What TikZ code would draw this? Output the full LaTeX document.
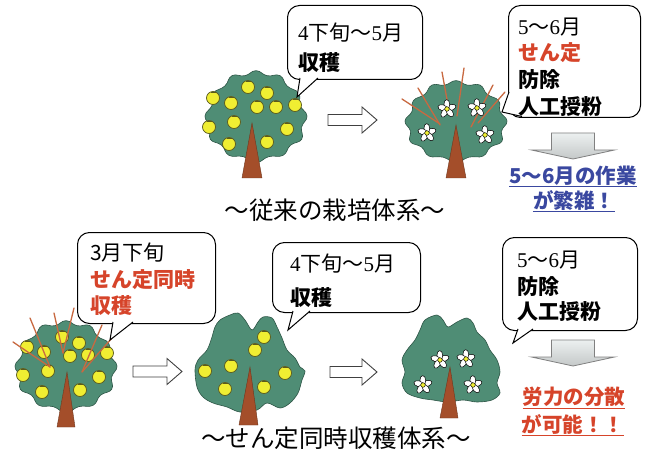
\documentclass[tikz,border=0pt]{standalone}
\usepackage{fontspec}
\newfontfamily\jp{Noto Sans CJK JP}
\newfontfamily\numser{Liberation Serif}

\definecolor{crowngreen}{RGB}{79,141,117}
\definecolor{crownedge}{RGB}{45,85,70}
\definecolor{trunkbrown}{RGB}{164,78,42}
\definecolor{trunkedge}{RGB}{110,55,30}
\definecolor{fruityellow}{RGB}{240,238,50}
\definecolor{fruitedge}{RGB}{90,90,30}
\definecolor{twigred}{RGB}{200,105,65}
\definecolor{redtext}{RGB}{214,68,42}
\definecolor{bluetext}{RGB}{58,72,160}
\definecolor{arrowgrayA}{RGB}{236,240,240}
\definecolor{arrowgrayB}{RGB}{196,200,200}

% round, bumpy crown, a little narrower at the top: centre (#1,#2), radii #3 x #4
\newcommand\roundcrown[4]{%
  \filldraw[crown] plot[smooth cycle, tension=0.8, variable=\t, samples at={0,15,...,345}]
    ({#1+#3*(1+0.07*sin(\t))*(0.955+0.045*cos(12*\t))*cos(\t)},
     {#2+#4*(0.955+0.045*cos(12*\t)+0.015*sin(5*\t))*sin(\t)});}
% trunk: apex (#1,#2), base from #3 to #4 at height #5
\newcommand\trunkat[5]{\filldraw[trunk] (#1,#2) -- (#3,#5) -- (#4,#5) -- cycle;}
% a fruit with a small stem
\newcommand\fruit[2]{%
  \filldraw[fruit] (#1,#2) circle[radius=6.5];
  \draw[fruitedge, line width=1pt] (#1-2.5,#2-5.8) -- (#1+2.5,#2-5.8);}
% a blossom: five petals around a yellow centre
\newcommand\blossom[2]{%
  \foreach \a in {20,92,164,236,308}
    \filldraw[petal, rotate around={\a:(#1,#2)}] (#1+4.6,#2) ellipse[x radius=4.8, y radius=2.9];
  \filldraw[fill=fruityellow, draw=black, line width=0.4pt] (#1,#2) circle[radius=2.3];}
% hollow arrow pointing right: left end #1, centre line #2, tip #3
\newcommand\rightblock[3]{%
  \filldraw[hollowarrow] (#1,#2-5.5) -- (#3-15,#2-5.5) -- (#3-15,#2-13) -- (#3,#2)
    -- (#3-15,#2+13) -- (#3-15,#2+5.5) -- (#1,#2+5.5) -- cycle;}
% grey arrow pointing down: centre #1, top #2
\newcommand\downblock[2]{%
  \draw[grayarrow, top color=arrowgrayA, bottom color=arrowgrayB]
    (#1-21.5,#2) -- (#1+21.5,#2) -- (#1+21.5,#2+17) -- (#1+41.5,#2+17) -- (#1,#2+26)
    -- (#1-41.5,#2+17) -- (#1-21.5,#2+17) -- cycle;}
% speech-bubble tail: base points #1,#2 on the border, tip #3
\newcommand\bubbletail[3]{%
  \fill[white] #1 -- #3 -- #2 -- cycle;
  \draw[tail] #1 -- #3 -- #2;}

\begin{document}
\begin{tikzpicture}[x=1pt, y=-1pt,
  crown/.style={fill=crowngreen, draw=crownedge, line width=0.6pt},
  trunk/.style={fill=trunkbrown, draw=trunkedge, line width=0.4pt},
  fruit/.style={fill=fruityellow, draw=fruitedge, line width=0.7pt},
  petal/.style={fill=white, draw=black, line width=0.5pt},
  twig/.style={draw=twigred, line width=1.3pt, line cap=round},
  hollowarrow/.style={fill=white, draw=black!75, line width=0.9pt, line join=miter},
  grayarrow/.style={draw=black!50, line width=0.8pt, line join=miter},
  bubble/.style={draw=black, fill=white, line width=1pt, rounded corners=12pt,
    inner sep=0pt, anchor=north west},
  tail/.style={draw=black, line width=1pt, line join=miter},
  btext/.style={font=\jp\bfseries\fontsize{21}{21}\selectfont, anchor=west, inner sep=0pt},
  ltext/.style={font=\jp\fontsize{21}{21}\selectfont, anchor=west, inner sep=0pt},
  note/.style={font=\jp\bfseries\fontsize{20.5}{21}\selectfont, inner sep=0pt},
  caption/.style={font=\jp\fontsize{24.5}{25}\selectfont, inner sep=0pt}]

\useasboundingbox (0,0) rectangle (645,457);
\fill[white] (0,0) rectangle (645,457);

% ---------------- conventional system ----------------
% tree with fruit
\roundcrown{256}{116}{51}{46}
\trunkat{252}{123}{242}{262}{178}
\foreach \p/\q in {248/87,267/93,213/98,231/103,257/107,276/107,295/105,
                   209/127,234/122,287/129,229/144,267/142}
  {\fruit{\p}{\q}}

% tree in blossom, with pruning cuts
\roundcrown{456}{121}{51}{41}
\trunkat{456}{125}{446}{466}{178}
\draw[twig] (440,124) -- (402,99);
\draw[twig] (440,125) -- (418,88);
\draw[twig] (448,105) -- (442,72);
\draw[twig] (457,116) -- (464,68);
\draw[twig] (471,127) -- (493,85);
\draw[twig] (478,123) -- (505,92);
\foreach \p/\q in {447/109,477/108,427/133,485/135} {\blossom{\p}{\q}}

\rightblock{328}{120}{377}

% bubbles
\node[bubble, minimum width=135pt, minimum height=74pt] (b1) at (287,5) {};
\coordinate (tip1) at (297,97);
\bubbletail{(300,78)}{(318,78)}{(tip1)}
\node[ltext] (t1a) at (298,33) {{\numser 4}下旬～{\numser 5}月};
\node[btext] (t1b) at (298,63) {収穫};

\node[bubble, minimum width=132pt, minimum height=112pt] (b2) at (508,5) {};
\coordinate (tip2) at (502,112);
\bubbletail{(509,92)}{(522,116.5)}{(tip2)}
\node[ltext] (t2a) at (518,27) {{\numser 5}～{\numser 6}月};
\node[btext, text=redtext] (t2b) at (518,53) {せん定};
\node[btext] (t2c) at (518,80) {防除};
\node[btext] (t2d) at (518,107) {人工授粉};

\downblock{573}{133}
\node[note, text=bluetext] (n1a) at (573,176) {5～6月の作業};
\node[note, text=bluetext] (n1b) at (574,200) {が繁雑！};
\draw[bluetext, line width=1pt] ([yshift=-1pt]n1a.south west) -- ([yshift=-1pt]n1a.south east);
\draw[bluetext, line width=1pt] ([yshift=-1pt]n1b.south west) -- ([yshift=-1pt]n1b.south east);

\node[caption] (c1) at (335,210) {～従来の栽培体系～};

% ---------------- pruning-with-harvest system ----------------
% tree with fruit and pruning cuts
\roundcrown{66}{366}{51}{46}
\trunkat{67}{372}{57}{75}{427}
\foreach \p/\q in {62/337,79/343,27/347,44/352,70/356,88/355,107/353,
                   23/375,48/371,99/377,42/392,80/390}
  {\fruit{\p}{\q}}
\draw[twig] (50,367) -- (13,342);
\draw[twig] (50,367) -- (30,318);
\draw[twig] (63,353) -- (54,313);
\draw[twig] (63,353) -- (74,308);
\draw[twig] (82,372) -- (102,325);
\draw[twig] (82,372) -- (112,338);

\rightblock{133}{371.5}{182}

% pruned tree with remaining fruit
\filldraw[crown] plot[smooth cycle, tension=0.55] coordinates {
  (220,320) (230,315) (238,313) (245,320) (252,330) (258,322) (263,317) (272,318)
  (277,327) (282,338) (287,350) (295,358) (300,367) (305,371) (302,380) (298,393)
  (290,403) (280,408) (267,403) (257,410) (240,412) (227,407) (213,403) (203,397)
  (197,387) (195,370) (198,360) (207,350) (212,337) (215,327)};
\trunkat{250}{367}{239}{258}{425}
\foreach \p/\q in {264/337,255/350,205/371,231/366,285/373,225/389,264/387}
  {\fruit{\p}{\q}}

\rightblock{330}{372}{377}

% pruned tree in blossom
\filldraw[crown] plot[smooth cycle, tension=0.55] coordinates {
  (425,320) (437,315) (443,320) (448,327) (457,322) (467,318) (473,323) (477,332)
  (485,340) (490,350) (497,360) (500,372) (497,383) (500,393) (492,400) (477,402)
  (463,400) (448,402) (433,400) (420,398) (407,393) (402,383) (405,372) (402,360)
  (407,350) (415,340) (420,330)};
\trunkat{450}{367}{440}{458}{418}
\foreach \p/\q in {440/360,466/359,423/385,473/385} {\blossom{\p}{\q}}

% bubbles
\node[bubble, minimum width=138pt, minimum height=91pt] (b3) at (77,232) {};
\coordinate (tip3) at (110,340);
\bubbletail{(113,322)}{(133,322)}{(tip3)}
\node[ltext] (t3a) at (90,253) {3月下旬};
\node[btext, text=redtext] (t3b) at (90,280) {せん定同時};
\node[btext, text=redtext] (t3c) at (90,306) {収穫};

\node[bubble, minimum width=148pt, minimum height=70pt] (b4) at (272,242) {};
\coordinate (tip4) at (288,330);
\bubbletail{(293,311)}{(310,311)}{(tip4)}
\node[ltext] (t4a) at (290,264) {{\numser 4}下旬～{\numser 5}月};
\node[btext] (t4b) at (290,298) {収穫};

\node[bubble, minimum width=135pt, minimum height=93pt] (b5) at (502,237) {};
\coordinate (tip5) at (513,343);
\bubbletail{(518,329)}{(533,329)}{(tip5)}
\node[ltext] (t5a) at (517,260) {{\numser 5}～{\numser 6}月};
\node[btext] (t5b) at (517,287) {防除};
\node[btext] (t5c) at (517,312) {人工授粉};

\downblock{573}{340}
\node[note, text=redtext] (n2a) at (574,397) {労力の分散};
\node[note, text=redtext] (n2b) at (573,424) {が可能！！};
\draw[redtext, line width=1pt] ([yshift=-1pt]n2a.south west) -- ([yshift=-1pt]n2a.south east);
\draw[redtext, line width=1pt] ([yshift=-1pt]n2b.south west) -- ([yshift=-1pt]n2b.south east);

\node[caption] (c2) at (336,438) {～せん定同時収穫体系～};
\end{tikzpicture}
\end{document}
